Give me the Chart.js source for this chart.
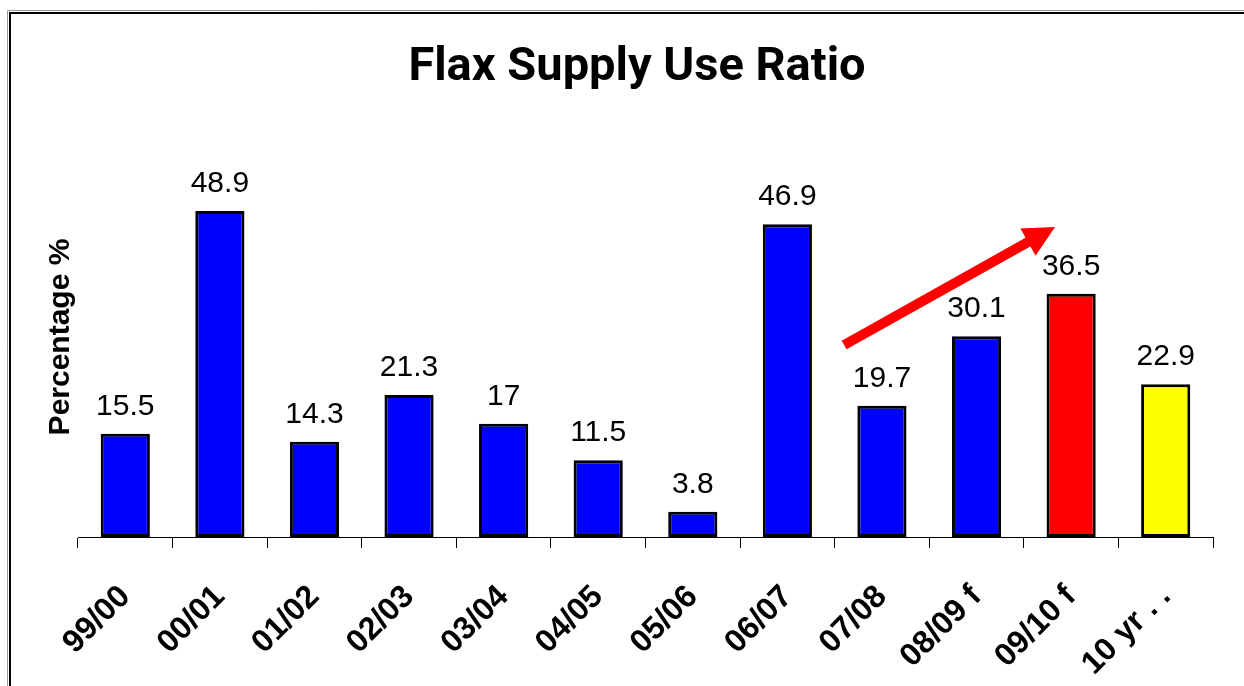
<!DOCTYPE html>
<html><head><meta charset="utf-8">
<script src="https://cdn.jsdelivr.net/npm/chart.js@4.4.1/dist/chart.umd.min.js"></script>
<style>html,body{margin:0;padding:0;background:#fff;overflow:hidden}canvas{display:block}</style>
</head><body>
<canvas id="c" width="1244" height="686"></canvas>
<script>
const chartTitle = 'Flax Supply Use Ratio';
const categories = ['99/00','00/01','01/02','02/03','03/04','04/05','05/06','06/07','07/08','08/09 f','09/10 f','10 yr . .'];
const supplyUseRatio = [15.5, 48.9, 14.3, 21.3, 17, 11.5, 3.8, 46.9, 19.7, 30.1, 36.5, 22.9];
const barColors = ['#0000FF','#0000FF','#0000FF','#0000FF','#0000FF','#0000FF','#0000FF','#0000FF','#0000FF','#0000FF','#FF0000','#FFFF00'];
// trend arrow: [categoryIndex, value] for tail and tip
const arrowTail = [7.6, 28.8];
const arrowTip = [9.83, 46.5];

const framePlugin = {
  id: 'frame',
  beforeDraw(chart) {
    const ctx = chart.ctx;
    ctx.save();
    ctx.fillStyle = '#fff';
    ctx.fillRect(0, 0, chart.width, chart.height);
    ctx.strokeStyle = '#999';
    ctx.lineWidth = 1;
    ctx.beginPath();
    ctx.moveTo(7.5, chart.height); ctx.lineTo(7.5, 10.5); ctx.lineTo(chart.width, 10.5);
    ctx.stroke();
    ctx.strokeStyle = '#000';
    ctx.lineWidth = 2;
    ctx.beginPath();
    ctx.moveTo(10, chart.height); ctx.lineTo(10, 13); ctx.lineTo(chart.width, 13);
    ctx.stroke();
    // chart title
    ctx.fillStyle = '#000';
    ctx.font = 'bold 47px Roboto, "Liberation Sans", Arial, sans-serif';
    ctx.textAlign = 'center';
    ctx.textBaseline = 'alphabetic';
    ctx.fillText(chartTitle, 637, 80);
    ctx.restore();
  }
};

const labelPlugin = {
  id: 'valueLabels',
  afterDatasetsDraw(chart) {
    const ctx = chart.ctx;
    const meta = chart.getDatasetMeta(0);
    ctx.save();
    ctx.fillStyle = '#000';
    ctx.font = '30px "Liberation Sans", Arial, sans-serif';
    ctx.textAlign = 'center';
    ctx.textBaseline = 'alphabetic';
    meta.data.forEach((bar, i) => {
      ctx.fillText(String(supplyUseRatio[i]), bar.x, bar.y - 19);
    });
    // arrow
    const xs = chart.scales.x, ys = chart.scales.y;
    const x1 = xs.getPixelForValue(arrowTail[0]), y1 = ys.getPixelForValue(arrowTail[1]);
    const x2 = xs.getPixelForValue(arrowTip[0]), y2 = ys.getPixelForValue(arrowTip[1]);
    const dx = x2 - x1, dy = y2 - y1, len = Math.hypot(dx, dy);
    const ux = dx / len, uy = dy / len;
    const headLen = 31, headHalf = 15.5;
    const bx = x2 - ux * headLen, by = y2 - uy * headLen;
    ctx.strokeStyle = '#FF0000';
    ctx.fillStyle = '#FF0000';
    ctx.lineWidth = 10;
    ctx.lineCap = 'butt';
    ctx.beginPath();
    ctx.moveTo(x1, y1); ctx.lineTo(bx + ux * 2, by + uy * 2);
    ctx.stroke();
    ctx.beginPath();
    ctx.moveTo(x2, y2);
    ctx.lineTo(bx - uy * headHalf, by + ux * headHalf);
    ctx.lineTo(bx + uy * headHalf, by - ux * headHalf);
    ctx.closePath();
    ctx.fill();
    ctx.restore();
  }
};

new Chart(document.getElementById('c'), {
  type: 'bar',
  data: {
    labels: categories,
    datasets: [{
      data: supplyUseRatio,
      backgroundColor: barColors,
      borderColor: '#000',
      borderWidth: 3,
      borderSkipped: false,
      barPercentage: 0.52,
      categoryPercentage: 1.0
    }]
  },
  options: {
    responsive: false,
    animation: false,
    devicePixelRatio: 1,
    layout: { padding: { top: 137, left: 0, right: 31, bottom: 0 } },
    plugins: {
      legend: { display: false },
      tooltip: { enabled: false },
      title: { display: false }
    },
    scales: {
      x: {
        afterFit(scale) { scale.height = 149; },
        grid: { display: true, drawOnChartArea: false, drawTicks: true, tickLength: 11, color: '#000', lineWidth: 1, offset: true },
        border: { display: true, color: '#000', width: 1 },
        ticks: {
          color: '#000',
          autoSkip: false,
          minRotation: 45,
          maxRotation: 45,
          padding: 30,
          font: { family: '"Liberation Sans", Arial, sans-serif', size: 32, weight: 'bold' }
        }
      },
      y: {
        min: 0,
        max: 60,
        afterFit(scale) { scale.width = 78; },
        grid: { display: false },
        border: { display: false },
        ticks: { display: false },
        title: {
          display: true,
          text: 'Percentage %',
          color: '#000',
          font: { family: '"Liberation Sans", Arial, sans-serif', size: 30, weight: 'bold', lineHeight: 1.2 },
          padding: { top: 43, bottom: 0 }
        }
      }
    }
  },
  plugins: [framePlugin, labelPlugin]
});
</script>
</body></html>
